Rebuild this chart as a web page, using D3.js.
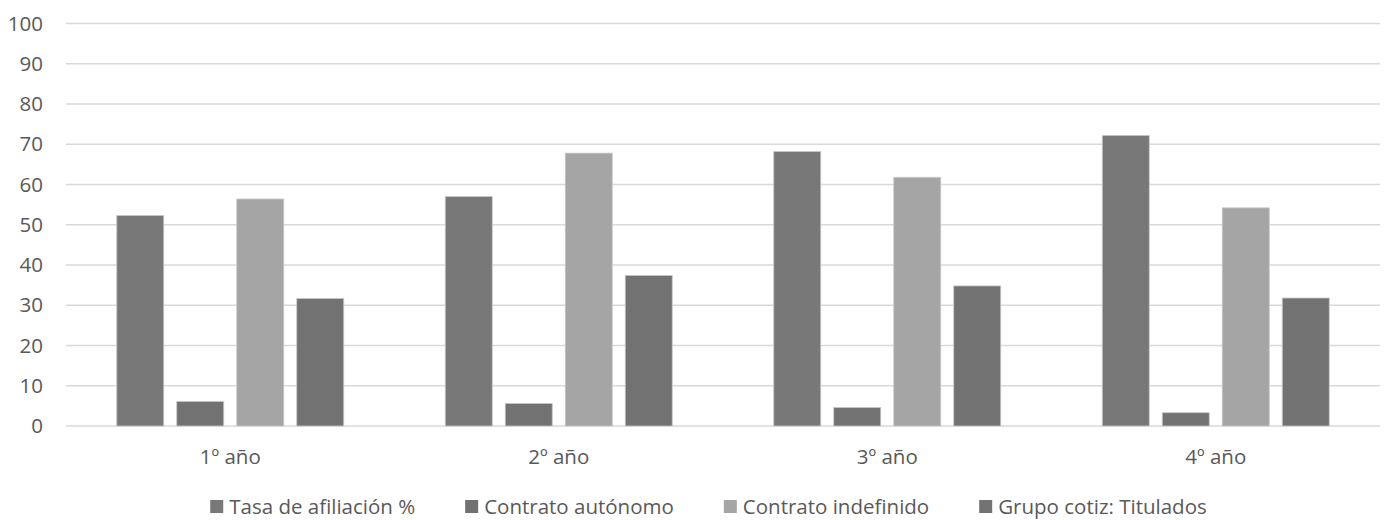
<!DOCTYPE html>
<html><head><meta charset="utf-8">
<script src="https://cdn.jsdelivr.net/npm/d3@7"></script>
<style>body{margin:0;background:#fff}svg{display:block}text{font-family:"Open Sans",sans-serif;fill:#595959}</style>
</head><body>
<script>
const categories = ["1º año","2º año","3º año","4º año"];
const seriesNames = ["Tasa de afiliación %","Contrato autónomo","Contrato indefinido","Grupo cotiz: Titulados"];
const tasaAfiliacion = [52.3, 57.0, 68.2, 72.2];
const contratoAutonomo = [6.1, 5.6, 4.6, 3.3];
const contratoIndefinido = [56.4, 67.8, 61.8, 54.2];
const grupoTitulados = [31.7, 37.4, 34.8, 31.8];
const yTicks = [0,10,20,30,40,50,60,70,80,90,100];
const seriesValues = [tasaAfiliacion, contratoAutonomo, contratoIndefinido, grupoTitulados];
const colors = ["#787878","#727272","#a5a5a5","#727272"];

(function(){
const W = 1391, H = 520;
const svg = d3.select("body").append("svg").attr("width", W).attr("height", H);
const mLeft = 66, mRight = 1380, mTop = 23.5, mBottom = 426;
const fs = "20.5px";

const y = d3.scaleLinear().domain([0,100]).range([mBottom, mTop]);
const x0 = d3.scaleBand().domain(categories).range([mLeft, mRight]).paddingInner(0).paddingOuter(0);
const x1 = d3.scaleBand().domain(seriesNames).range([0, x0.bandwidth()]).paddingInner(0.2167).paddingOuter(0.846);

svg.append("g").selectAll("line").data(yTicks).join("line")
  .attr("x1", mLeft).attr("x2", mRight)
  .attr("y1", d => y(d)).attr("y2", d => y(d))
  .attr("stroke", "#d9d9d9").attr("stroke-width", 1.5);

svg.append("g").selectAll("text").data(yTicks).join("text")
  .attr("x", 43).attr("y", d => y(d)).attr("dy", "0.35em")
  .attr("text-anchor", "end").style("font-size", fs).text(d => d);

const data = [];
categories.forEach((c, i) => seriesNames.forEach((s, j) => data.push({c, s, j, v: seriesValues[j][i]})));
svg.append("g").selectAll("rect").data(data).join("rect")
  .attr("x", d => x0(d.c) + x1(d.s))
  .attr("width", x1.bandwidth())
  .attr("y", d => y(d.v))
  .attr("height", d => y(0) - y(d.v))
  .attr("fill", d => colors[d.j])
  .attr("stroke", "#c8c8c8").attr("stroke-width", 0.8);

svg.append("g").selectAll("text").data(categories).join("text")
  .attr("x", d => x0(d) + x0.bandwidth()/2).attr("y", 464)
  .attr("text-anchor", "middle").style("font-size", fs).text(d => d);

const lg = svg.append("g");
const items = lg.selectAll("g").data(seriesNames).join("g");
items.append("rect").attr("width", 13).attr("height", 13).attr("y", 500)
  .attr("fill", (d,i) => colors[i]);
items.append("text").attr("x", 19).attr("y", 513.5).style("font-size", fs).text(d => d);
const gap = 50;
const widths = [];
items.each(function(){ widths.push(19 + this.querySelector("text").getComputedTextLength()); });
const total = d3.sum(widths) + gap*(widths.length-1);
let cx = 708.5 - total/2;
items.each(function(d,i){ d3.select(this).attr("transform", `translate(${cx},0)`); cx += widths[i] + gap; });
})();
</script>
</body></html>
